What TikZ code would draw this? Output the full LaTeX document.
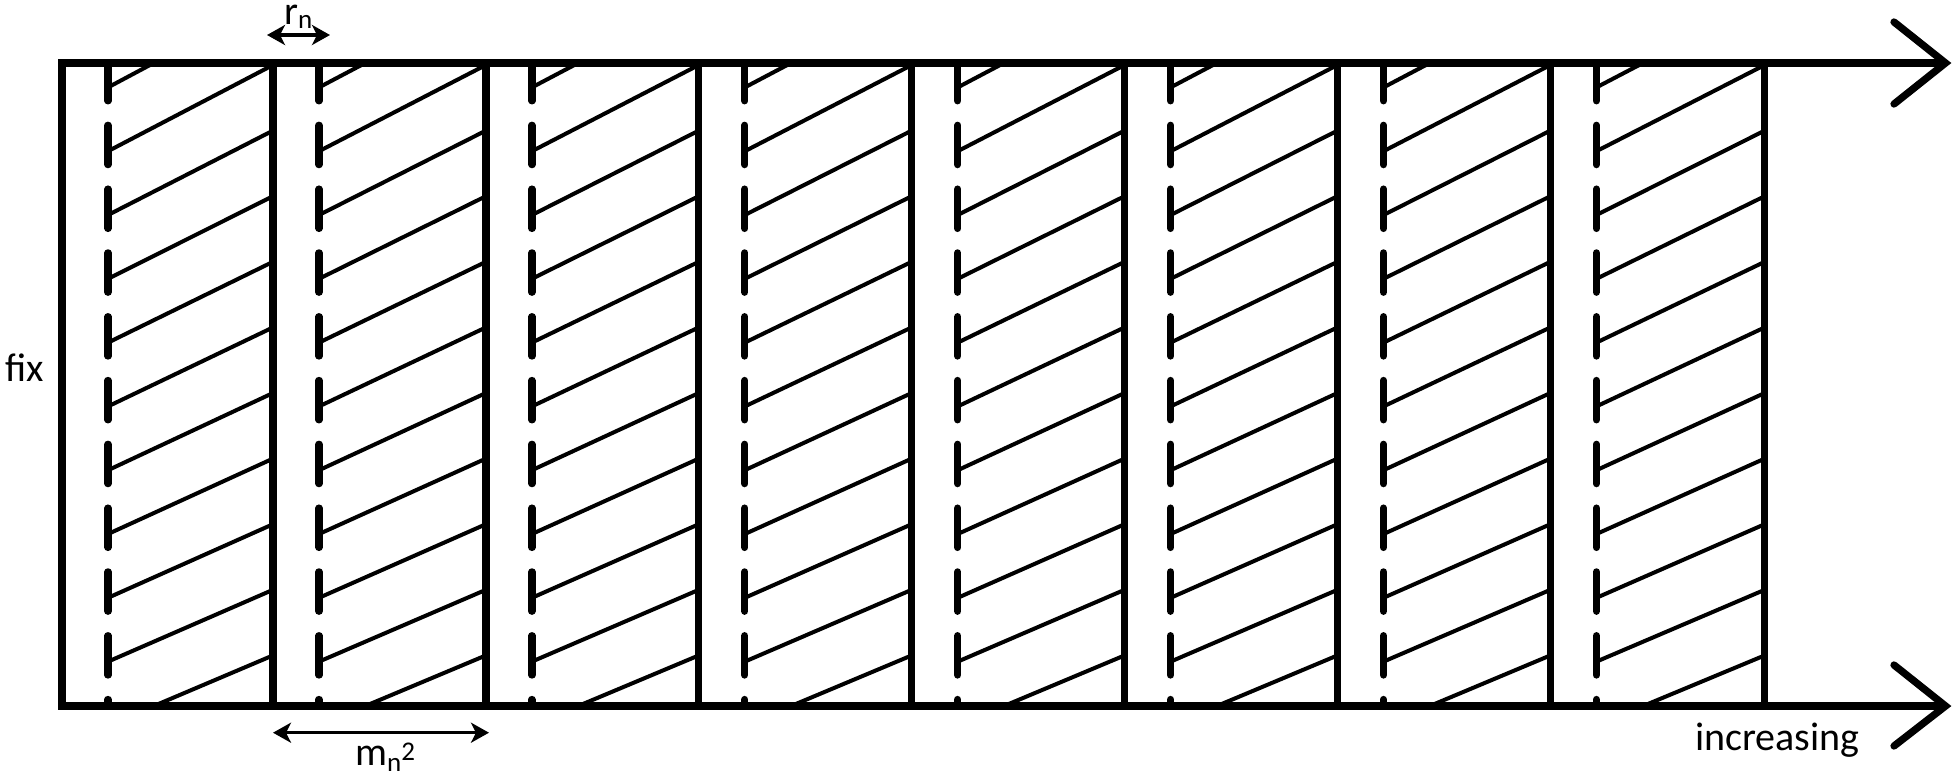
\documentclass[tikz,border=0pt]{standalone}
\usepackage{fontspec}
\setmainfont{Carlito}
\usetikzlibrary{arrows.meta}
\newcommand{\smallscript}[1]{{\fontsize{27}{27}\selectfont #1}}
\begin{document}
\begin{tikzpicture}[x=1pt,y=-1pt,
  frame/.style={line width=7.3pt, line join=miter},
  divider/.style={line width=7.3pt},
  barb/.style={line width=7.3pt, line cap=round, line join=miter},
  centerline/.style={line width=7.3pt, line cap=round, dash pattern=on 39.3pt off 24.5pt, dash phase=1.5pt},
  hatch/.style={line width=4pt},
  dim/.style={line width=3.2pt, {Stealth[length=18pt,width=20pt,inset=5pt]}-{Stealth[length=18pt,width=20pt,inset=5pt]}},
  lbl/.style={inner sep=0pt, font=\fontsize{40}{42}\selectfont}]
\useasboundingbox (0,0) rectangle (1957,777);
% cells: hatching and dash-dot centre lines
\foreach \a/\b in {62/273, 273/485.9, 485.9/698.8, 698.8/911.7, 911.7/1124.6, 1124.6/1337.5, 1337.5/1550.4, 1550.4/1764.7} {
  \begin{scope}
    \clip (\a+46,63) rectangle (\b,706);
    \foreach \k in {0,...,10} {
      \draw[hatch] (\a+46, {151.2+63.8*(\k-1)}) -- (\b, {65+65.6*(\k-1)});
    }
  \end{scope}
  \draw[centerline] (\a+46,63) -- (\a+46,706);
}
% dividers
\foreach \x in {273,485.9,698.8,911.7,1124.6,1337.5,1550.4,1764.7} {
  \draw[divider] (\x,63) -- (\x,706);
}
% frame with open arrow heads
\coordinate (topEnd) at (1945.5,63);
\coordinate (botEnd) at (1945.5,706);
\draw[frame] (topEnd) -- (62,63) -- (62,706) -- (botEnd);
\draw[barb] (1894,22) -- (topEnd) -- (1894,104);
\draw[barb] (1894,665) -- (botEnd) -- (1894,746);
% labels
\node[lbl, anchor=base west] (fix) at (5,381.7) {fix};
\node[lbl, anchor=base west] (inc) at (1695,750) {increasing};
\node[lbl, anchor=base west] (rn) at (284,24) {r\raisebox{-4pt}{\smallscript{n}}};
\node[lbl, anchor=base west] (mn) at (355,765) {m\raisebox{-6.7pt}{\smallscript{n}}\raisebox{5pt}{\smallscript{2}}};
% dimension arrows
\coordinate (rnL) at (267,35);
\coordinate (rnR) at (330,35);
\draw[dim] (rnL) -- (rnR);
\coordinate (mnL) at (273,732.7);
\coordinate (mnR) at (489,732.7);
\draw[dim] (mnL) -- (mnR);
\end{tikzpicture}
\end{document}
